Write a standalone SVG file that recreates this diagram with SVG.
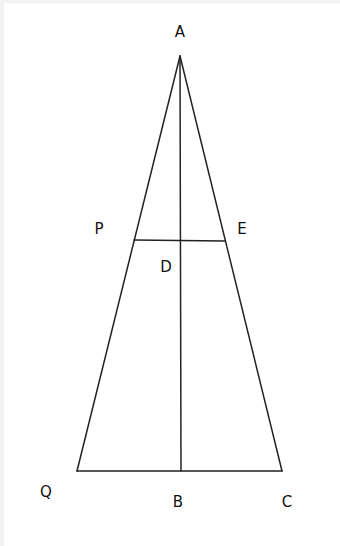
<svg xmlns="http://www.w3.org/2000/svg" width="340" height="546" viewBox="0 0 340 546">
<style>
.ln{stroke:#222;stroke-width:1.5;fill:none;stroke-linecap:round}
.lb{font-family:"DejaVu Sans","Open Sans",sans-serif;font-size:15px;fill:#111;text-anchor:middle}
</style>
<rect width="340" height="546" fill="#f3f3f3"/>
<rect x="4" y="3" width="336" height="543" fill="#fff"/>
<g id="lines">
<line class="ln" x1="180" y1="56" x2="77" y2="471"/>
<line class="ln" x1="180" y1="56" x2="282" y2="471"/>
<line class="ln" x1="180" y1="56" x2="181" y2="471"/>
<line class="ln" x1="77" y1="471" x2="282" y2="471" stroke="#555" stroke-width="2"/>
<line class="ln" x1="134" y1="240" x2="225" y2="241"/>
</g>
<g id="labels">
<text class="lb" x="180" y="37">A</text>
<text class="lb" x="99" y="234">P</text>
<text class="lb" x="242" y="234">E</text>
<text class="lb" x="166" y="272">D</text>
<text class="lb" x="46" y="497">Q</text>
<text class="lb" x="178" y="507">B</text>
<text class="lb" x="287" y="507">C</text>
</g>
</svg>
